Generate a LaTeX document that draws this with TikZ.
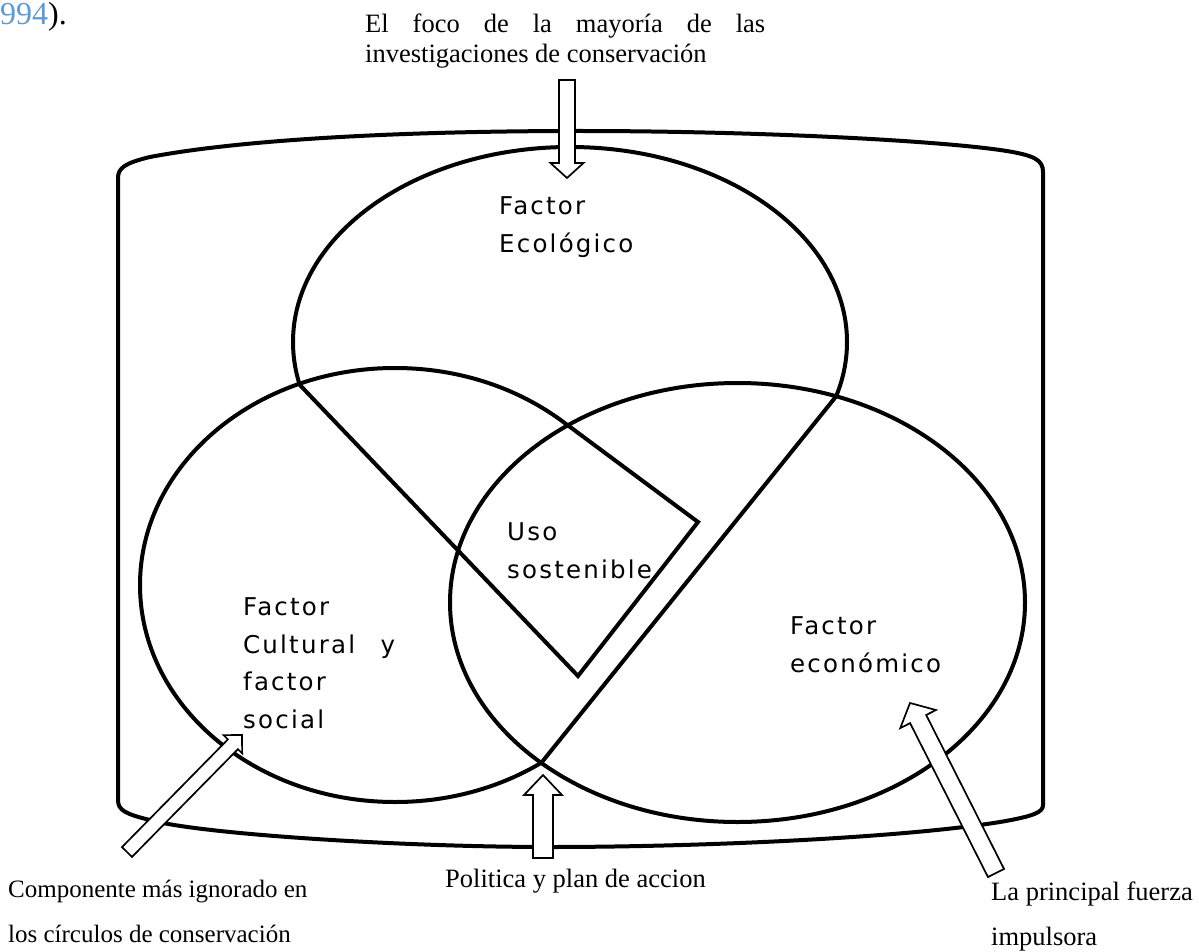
\documentclass[tikz,border=0pt]{standalone}
\usepackage{fontspec}
\setmainfont{Liberation Serif}
\newfontfamily\labelsans[LetterSpace=9]{DejaVu Sans}
\usetikzlibrary{calc}

\definecolor{citeblue}{RGB}{91,155,213}

% hollow block arrow: tail, tip, shaft half width, head half width, head length
\newcommand{\hollowarrow}[5]{%
  \coordinate (headbase) at ($(#2)!#5!(#1)$);
  \draw[blockarrow] ($(#1)!#3!90:(#2)$) -- ($(headbase)!#3!90:(#2)$)
    -- ($(headbase)!#4!90:(#2)$) -- (#2) -- ($(headbase)!#4!-90:(#2)$)
    -- ($(headbase)!#3!-90:(#2)$) -- ($(#1)!#3!-90:(#2)$) -- cycle;
}

\begin{document}
\begin{tikzpicture}[
    x=1pt, y=-1pt,
    ring/.style={line width=4pt},
    frame/.style={line width=4pt},
    blockarrow/.style={line width=1.7pt, fill=white, line join=miter},
    serif text/.style={inner sep=0pt, align=left, font=\fontsize{26.5}{45}\selectfont},
    sans text/.style={inner sep=0pt, align=left, font=\labelsans\fontsize{24.5}{37.5}\selectfont}
]
    \useasboundingbox (0,0) rectangle (1199,952);

    % outer frame
    \draw[frame] (118,800) -- (118,178)
        .. controls (118,168) and (125,163) .. (150,157)
        .. controls (250,138) and (420,131) .. (580,131)
        .. controls (750,131) and (930,140) .. (1000,150)
        .. controls (1035,155) and (1043,160) .. (1043,172)
        -- (1043,805)
        .. controls (1043,812) and (1035,816) .. (1000,822)
        .. controls (900,838) and (700,847) .. (550,847)
        .. controls (400,847) and (200,834) .. (150,820)
        .. controls (125,814) and (118,810) .. (118,800) -- cycle;

    % the three rings (white fill hides the hidden arcs)
    \draw[ring] (570,342) ellipse [x radius=277pt, y radius=195pt];
    \draw[ring, fill=white] (395,585) ellipse [x radius=255pt, y radius=217pt];
    \draw[ring, fill=white] (737.5,602.5) ellipse [x radius=287.5pt, y radius=219.5pt];

    % meeting points of the rings
    \coordinate (ecoCultJoin) at (299.5,384.6);
    \coordinate (ecoEconJoin) at (836,396.5);
    \coordinate (ringsTop) at (568,425.4);
    \coordinate (ringsBottom) at (541.2,763);
    \coordinate (squareRight) at (698,522);
    \coordinate (squareBottom) at (578,676);

    % funnel and square
    \draw[ring] (ecoCultJoin) -- (squareBottom) -- (squareRight) -- (ringsTop);
    \draw[ring] (ecoEconJoin) -- (ringsBottom);

    % ring labels (anchored at the baseline of their last line)
    \node[sans text, anchor=base west] (ecoLbl) at (499,252) {Factor\\Ecológico};
    \node[sans text, anchor=base west] (cultLbl) at (243,728)
        {Factor\\\makebox[152pt][s]{Cultural y}\\factor\\social};
    \node[sans text, anchor=base west] (usoLbl) at (507,578) {Uso\\sostenible};
    \node[sans text, anchor=base west] (econLbl) at (790,672) {Factor\\económico};

    % outside labels
    \node[anchor=base east, inner sep=0pt, font=\fontsize{32}{32}\selectfont] (citeLbl)
        at (67,25) {\textcolor{citeblue}{994}).};
    \node[serif text, anchor=base west, font=\fontsize{26.5}{30}\selectfont] (focoLbl) at (365,63)
        {\makebox[400pt][s]{El foco de la mayoría de las}\\investigaciones de conservación};
    \node[serif text, anchor=base west, font=\fontsize{25}{45}\selectfont] (ignorLbl) at (8,942)
        {Componente más ignorado en\\los círculos de conservación};
    \node[serif text, anchor=base west] (polLbl) at (445,887) {Politica y plan de accion};
    \node[serif text, anchor=base west] (fuerzaLbl) at (991,945) {La principal fuerza\\impulsora};

    % block arrows
    \coordinate (focoTail) at (567,80);
    \coordinate (focoTip) at (567,178);
    \coordinate (ignorTail) at (127,852);
    \coordinate (ignorTip) at (242,735);
    \coordinate (polTail) at (543,858);
    \coordinate (polTip) at (543,775);
    \coordinate (fuerzaTail) at (996,873);
    \coordinate (fuerzaTip) at (910,703);
    \hollowarrow{focoTail}{focoTip}{8pt}{16.5pt}{15pt}
    \hollowarrow{ignorTail}{ignorTip}{7pt}{13pt}{13pt}
    \hollowarrow{polTail}{polTip}{10pt}{19pt}{20pt}
    \hollowarrow{fuerzaTail}{fuerzaTip}{9pt}{20pt}{18pt}

\end{tikzpicture}
\end{document}
